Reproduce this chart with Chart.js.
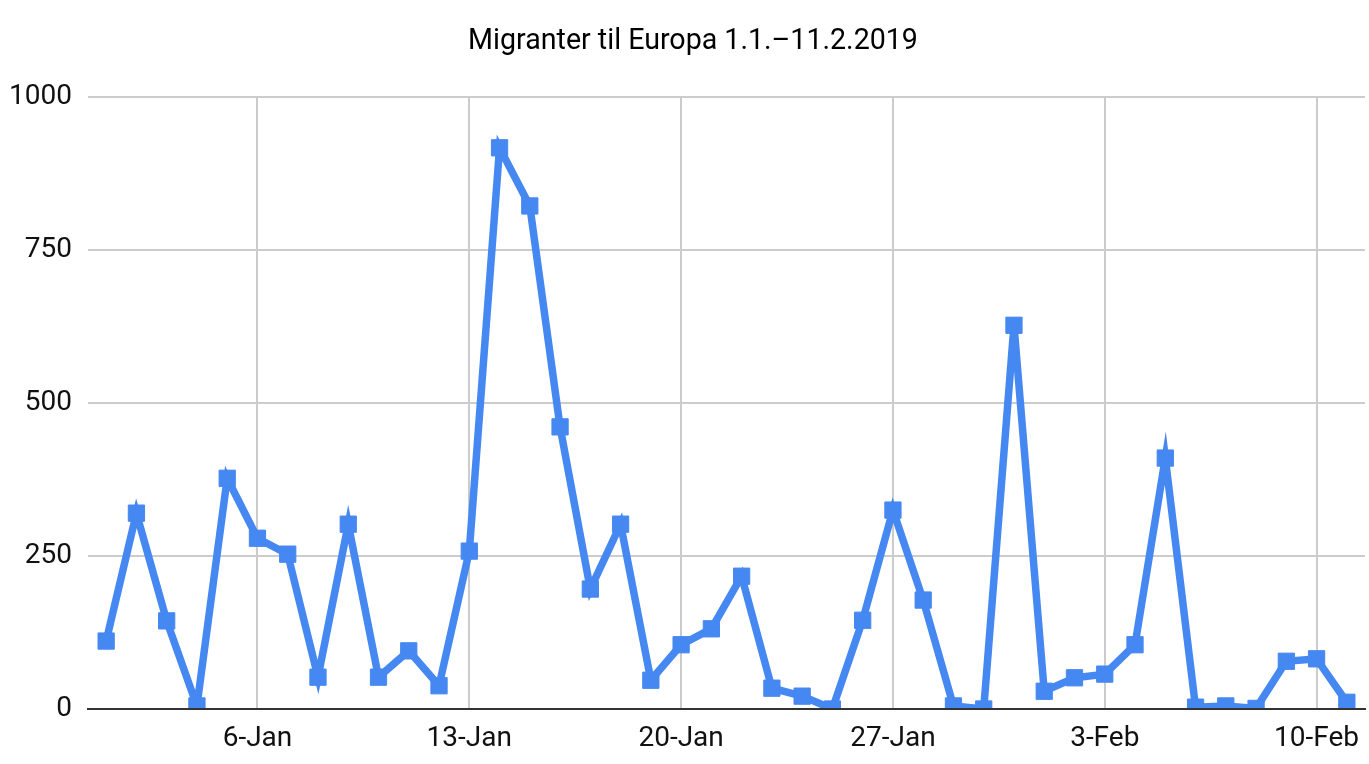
<!DOCTYPE html>
<html>
<head>
<meta charset="utf-8">
<script src="https://cdn.jsdelivr.net/npm/chart.js@4"></script>
<style>
  html, body { margin: 0; padding: 0; background: #fff; }
  #wrap { width: 1369px; height: 764px; }
</style>
</head>
<body>
<div id="wrap"><canvas id="c" width="1369" height="764"></canvas></div>
<script>
const titleText = 'Migranter til Europa 1.1.–11.2.2019';
const dates = [
  '1-Jan','2-Jan','3-Jan','4-Jan','5-Jan','6-Jan','7-Jan','8-Jan','9-Jan','10-Jan',
  '11-Jan','12-Jan','13-Jan','14-Jan','15-Jan','16-Jan','17-Jan','18-Jan','19-Jan','20-Jan',
  '21-Jan','22-Jan','23-Jan','24-Jan','25-Jan','26-Jan','27-Jan','28-Jan','29-Jan','30-Jan',
  '31-Jan','1-Feb','2-Feb','3-Feb','4-Feb','5-Feb','6-Feb','7-Feb','8-Feb','9-Feb',
  '10-Feb','11-Feb'
];
const migrants = [
  111, 320, 144, 5, 377, 279, 253, 52, 302, 52,
  95, 38, 258, 917, 822, 461, 196, 302, 47, 105,
  131, 217, 34, 21, 0, 145, 325, 178, 5, 0,
  627, 29, 51, 57, 105, 410, 3, 5, 1, 78,
  82, 11
];
const xTickLabels = ['6-Jan','13-Jan','20-Jan','27-Jan','3-Feb','10-Feb'];
const yTicks = [0, 250, 500, 750, 1000];

const points = migrants.map((v, i) => ({ x: i, y: v }));
const xTickPositions = xTickLabels.map(l => dates.indexOf(l));

const FONT = 'Roboto, "Noto Sans", sans-serif';

const titlePlugin = {
  id: 'customTitle',
  afterDatasetsDraw(chart) {
    const ctx = chart.ctx;
    const a = chart.chartArea;
    ctx.save();
    // zero baseline drawn over the data, as in the reference
    ctx.strokeStyle = '#333333';
    ctx.lineWidth = 2;
    ctx.beginPath();
    const y0 = chart.scales.y.getPixelForValue(0);
    ctx.moveTo(a.left, y0);
    ctx.lineTo(a.right, y0);
    ctx.stroke();
    ctx.restore();
  },
  afterDraw(chart) {
    const ctx = chart.ctx;
    ctx.save();
    ctx.font = '28.6px ' + FONT;
    ctx.fillStyle = '#000';
    ctx.textAlign = 'center';
    ctx.textBaseline = 'middle';
    ctx.fillText(titleText, 693, 42);
    ctx.restore();
  }
};

new Chart(document.getElementById('c'), {
  type: 'line',
  data: {
    datasets: [{
      data: points,
      borderColor: '#4688F1',
      backgroundColor: '#4688F1',
      borderWidth: 7.5,
      borderJoinStyle: 'miter',
      pointStyle: 'rect',
      pointRadius: 11.5,
      pointBorderWidth: 1,
      pointBackgroundColor: '#4688F1',
      pointBorderColor: '#4688F1',
      tension: 0,
      fill: false,
      clip: { left: 30, top: 30, right: 30, bottom: 0 }
    }]
  },
  plugins: [titlePlugin],
  options: {
    responsive: false,
    animation: false,
    devicePixelRatio: 1,
    layout: { autoPadding: false, padding: { left: 0, right: 4, top: 97, bottom: 0 } },
    plugins: {
      legend: { display: false },
      tooltip: { enabled: false },
      title: { display: false }
    },
    scales: {
      x: {
        type: 'linear',
        min: -0.6,
        max: 41.6,
        afterBuildTicks: (scale) => {
          scale.ticks = xTickPositions.map(v => ({ value: v }));
        },
        afterFit: (scale) => {
          scale.height = 55;
          scale.paddingLeft = 0;
          scale.paddingRight = 0;
        },
        ticks: {
          autoSkip: false,
          maxRotation: 0,
          padding: 13,
          color: '#111',
          font: { family: FONT, size: 28 },
          callback: (v) => dates[v]
        },
        grid: { color: '#cccccc', lineWidth: 2, drawTicks: false },
        border: { display: true, color: '#333333', width: 2 }
      },
      y: {
        min: 0,
        max: 1000,
        afterBuildTicks: (scale) => {
          scale.ticks = yTicks.map(v => ({ value: v }));
        },
        afterFit: (scale) => {
          scale.width = 88;
          scale.paddingTop = 0;
          scale.paddingBottom = 0;
        },
        ticks: {
          padding: 16,
          color: '#111',
          font: { family: FONT, size: 28 },
          callback: (v) => String(v)
        },
        grid: {
          color: (ctx) => ctx.tick && ctx.tick.value === 0 ? 'rgba(0,0,0,0)' : '#cccccc',
          lineWidth: 2,
          drawTicks: false
        },
        border: { display: false }
      }
    }
  }
});
</script>
</body>
</html>
